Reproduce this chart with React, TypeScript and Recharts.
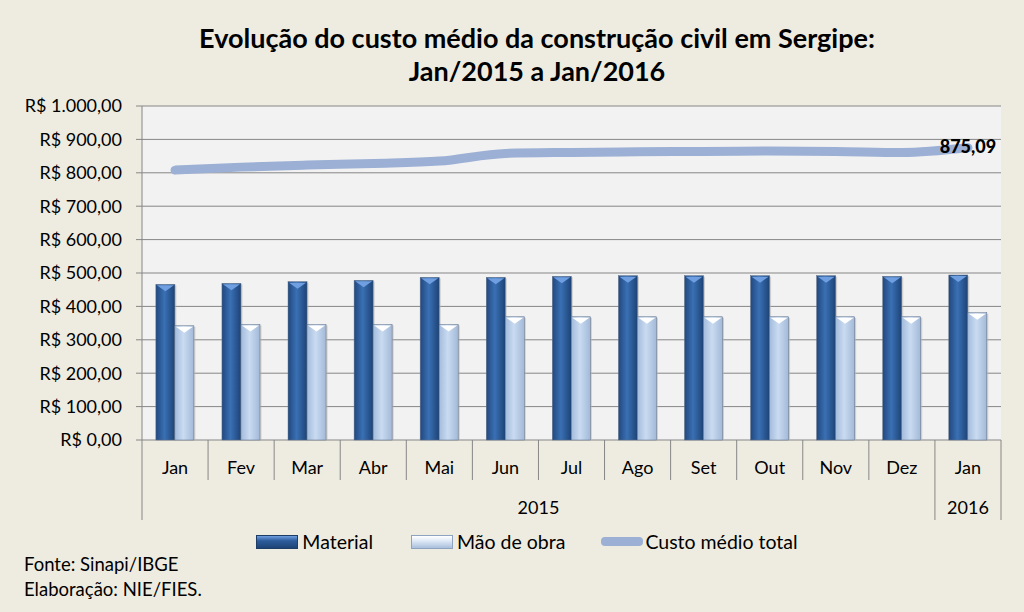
import React from "react";
import {
  ComposedChart, Bar, Line, XAxis, YAxis, CartesianGrid, LabelList,
} from "recharts";

const months = ["Jan", "Fev", "Mar", "Abr", "Mai", "Jun", "Jul", "Ago", "Set", "Out", "Nov", "Dez", "Jan"];
const years = ["2015", "2015", "2015", "2015", "2015", "2015", "2015", "2015", "2015", "2015", "2015", "2015", "2016"];
const material = [466, 469, 474, 478, 487, 487, 490, 492, 492, 492, 492, 490, 494];
const maoDeObra = [342, 346, 346, 346, 346, 369, 369, 369, 369, 369, 369, 369, 381];
const custoTotal = [808, 817, 823, 828, 835, 858, 861, 863, 864, 865, 864, 861, 875.09];
const yTicks = [0, 100, 200, 300, 400, 500, 600, 700, 800, 900, 1000];

const W = 1024;
const H = 612;
const M = { top: 106, right: 23, bottom: 92, left: 0 };
const Y_W = 142;
const X_H = 80;
const PLOT_W = W - M.left - M.right - Y_W;
const FONT = "Lato, 'Open Sans', sans-serif";
const AXIS = "#868686";

const rows = months.map((m, i) => ({
  month: m,
  year: years[i],
  material: material[i],
  mao: maoDeObra[i],
  total: custoTotal[i],
}));

const brl = (v: number) =>
  "R$ " + v.toLocaleString("pt-BR", { minimumFractionDigits: 2, maximumFractionDigits: 2 });

function MonthTick({ x, y, index }: any) {
  const band = PLOT_W / months.length;
  const left = x - band / 2;
  const yearStart = index === 0 || years[index] !== years[index - 1];
  const isLast = index === months.length - 1;
  let span = 0;
  if (yearStart) {
    while (index + span < years.length && years[index + span] === years[index]) span++;
  }
  return (
    <g>
      <text x={x} y={y + 34} textAnchor="middle" fontSize={18} fontFamily={FONT} fill="#000">
        {months[index]}
      </text>
      <line x1={left} x2={left} y1={y} y2={y + (yearStart ? 80 : 40)} stroke={AXIS} />
      {isLast && <line x1={left + band} x2={left + band} y1={y} y2={y + 80} stroke={AXIS} />}
      {yearStart && (
        <text x={left + (span * band) / 2} y={y + 74} textAnchor="middle" fontSize={18} fontFamily={FONT} fill="#000">
          {years[index]}
        </text>
      )}
    </g>
  );
}

function BevelBar({ x, y, width, height, fill, cap }: any) {
  if (!height || height <= 0) return null;
  return (
    <g>
      <rect x={x + 1.5} y={y + 1} width={width} height={height - 1} fill="#b5b5b5" opacity={0.6} />
      <rect x={x} y={y} width={width} height={height} fill={fill} stroke="#5f6f86" strokeWidth={0.5} />
      <polygon
        points={`${x + 1},${y + 1} ${x + width - 1},${y + 1} ${x + width / 2},${y + 7}`}
        fill={cap}
      />
    </g>
  );
}

function TotalLabel({ x, y, index, value }: any) {
  if (index !== custoTotal.length - 1) return null;
  return (
    <text x={x} y={y + 5} textAnchor="middle" fill="#000" style={{ fontSize: 18, fontWeight: 900, fontFamily: FONT }}>
      {Number(value).toLocaleString("pt-BR", { minimumFractionDigits: 2 })}
    </text>
  );
}

export default function App() {
  return (
    <div style={{ position: "absolute", left: 0, top: 0, width: W, height: H, background: "#eeece1", fontFamily: FONT }}>
      <div style={{ position: "absolute", left: 0, top: 21, width: W + 50, textAlign: "center", fontSize: 27, fontWeight: "bold", lineHeight: "33px", color: "#000" }}>
        Evolução do custo médio da construção civil em Sergipe:
        <br />
        Jan/2015 a Jan/2016
      </div>
      <ComposedChart width={W} height={H} data={rows} margin={M} barCategoryGap="21%" barGap={0}>
        <defs>
          <linearGradient id="gMat" x1="0" y1="0" x2="1" y2="0">
            <stop offset="0%" stopColor="#21487f" />
            <stop offset="45%" stopColor="#3a70b4" />
            <stop offset="100%" stopColor="#1d4376" />
          </linearGradient>
          <linearGradient id="gMao" x1="0" y1="0" x2="1" y2="0">
            <stop offset="0%" stopColor="#a3bbdb" />
            <stop offset="45%" stopColor="#c9dbf1" />
            <stop offset="100%" stopColor="#a2b9d8" />
          </linearGradient>
        </defs>
        <CartesianGrid vertical={false} stroke={AXIS} fill="#f2f2f2" />
        <XAxis
          dataKey="month"
          height={X_H}
          interval={0}
          axisLine={false}
          tickLine={false}
          tickSize={0}
          tickMargin={0}
          tick={<MonthTick />}
        />
        <YAxis
          width={Y_W}
          domain={[0, 1000]}
          ticks={yTicks}
          tickFormatter={brl}
          axisLine={{ stroke: AXIS }}
          tickLine={{ stroke: AXIS }}
          tickSize={6}
          tickMargin={14}
          tick={{ fill: "#000", fontSize: 18, fontFamily: FONT }}
        />
        <Bar dataKey="material" fill="url(#gMat)" shape={(p: any) => <BevelBar {...p} cap="#6f9fe0" />} isAnimationActive={false} />
        <Bar dataKey="mao" fill="url(#gMao)" shape={(p: any) => <BevelBar {...p} cap="#ffffff" />} isAnimationActive={false} />
        <Line
          dataKey="total"
          type="monotone"
          stroke="#9cb0d5"
          strokeWidth={9}
          strokeLinecap="round"
          dot={false}
          activeDot={false}
          isAnimationActive={false}
        >
          <LabelList dataKey="total" content={<TotalLabel />} />
        </Line>
      </ComposedChart>
      <div style={{ position: "absolute", left: 0, top: 530, width: W + 30, display: "flex", justifyContent: "center", alignItems: "center", fontSize: 19.5, color: "#000" }}>
        <span style={{ display: "inline-block", width: 40, height: 12, background: "linear-gradient(180deg,#6f9fe0,#2d5c9c 40%,#1d4376)", border: "1px solid #1d3d66", marginRight: 4 }} />
        <span style={{ marginRight: 38 }}>Material</span>
        <span style={{ display: "inline-block", width: 40, height: 12, background: "linear-gradient(180deg,#ffffff,#dfe9f6 40%,#a9bfdc)", border: "1px solid #8ea3c0", marginRight: 4 }} />
        <span style={{ marginRight: 36 }}>Mão de obra</span>
        <span style={{ display: "inline-block", width: 42, height: 9, borderRadius: 4, background: "#9cb0d5", marginRight: 2 }} />
        <span>Custo médio total</span>
      </div>
      <div style={{ position: "absolute", left: 24, top: 552, fontSize: 18.5, lineHeight: "25px", color: "#000" }}>
        Fonte: Sinapi/IBGE
        <br />
        Elaboração: NIE/FIES.
      </div>
    </div>
  );
}
